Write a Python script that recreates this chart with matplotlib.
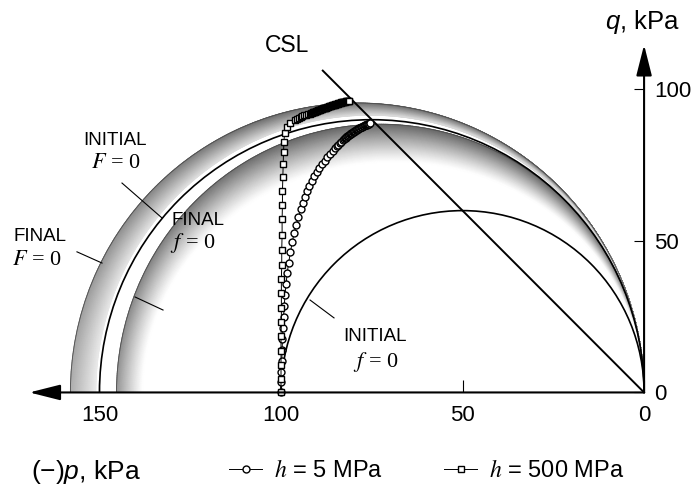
import matplotlib
matplotlib.use("Agg")
import numpy as np
import matplotlib.pyplot as plt
from matplotlib.patches import Arc

plt.rcParams["font.family"] = ["Liberation Sans", "DejaVu Sans"]
plt.rcParams["mathtext.fontset"] = "custom"
plt.rcParams["mathtext.it"] = "Liberation Sans:italic"
plt.rcParams["mathtext.rm"] = "Liberation Sans"

# yield surfaces: (size along p, peak q), kPa
final_F_outer = (158.0, 95.5)
final_F_inner = (151.0, 91.5)
initial_F = (150.0, 90.0)
final_f_outer = (145.3, 88.5)
final_f_inner = (138.0, 76.0)
initial_f = (100.0, 60.0)

# critical state line, from the origin
csl_p = [0.0, 88.5]
csl_q = [0.0, 106.2]

# stress path, h = 5 MPa
p_h5 = [100.0, 100.0, 99.9, 99.8, 99.7, 99.6, 99.5, 99.3, 99.1, 98.9,
        98.6, 98.3, 97.9, 97.4, 96.9, 96.4, 95.8, 95.2, 94.6, 94.0,
        93.4, 92.8, 92.2, 91.5, 90.8, 90.1, 89.4, 88.7, 88.0, 87.2,
        86.4, 85.6, 85.0, 84.6, 84.2, 83.8, 83.4, 83.0, 82.6,
        82.4, 82.2, 82.0, 81.8, 81.6, 81.4, 81.2, 81.0, 80.8, 80.6,
        80.4, 80.2, 80.0, 79.8, 79.6, 79.4, 79.2, 79.0, 78.8, 78.6,
        78.4, 78.2, 78.0, 77.8, 77.6, 77.4, 77.2, 77.0, 76.8, 76.6,
        76.4, 76.2, 76.0, 75.8, 75.6]
q_h5 = [0.0, 3.4, 6.9, 10.4, 14.0, 17.6, 21.2, 24.9, 28.6, 32.2,
        35.8, 39.3, 42.8, 46.3, 49.6, 52.6, 55.4, 58.0, 60.4, 62.6,
        64.6, 66.5, 68.2, 69.8, 71.3, 72.7, 74.0, 75.3, 76.5, 77.7,
        78.8, 79.8, 80.7, 81.2, 81.7, 82.2, 82.7, 83.2, 83.7,
        83.9, 84.1, 84.3, 84.5, 84.7, 84.9, 85.1, 85.2, 85.4, 85.6,
        85.7, 85.9, 86.1, 86.2, 86.4, 86.5, 86.7, 86.8, 86.9, 87.1,
        87.2, 87.3, 87.5, 87.6, 87.7, 87.8, 88.0, 88.1, 88.2, 88.3,
        88.4, 88.5, 88.6, 88.7, 88.8]

# stress path, h = 500 MPa
p_h500 = [100.0, 100.0, 100.0, 100.0, 100.0, 99.9, 99.9, 99.9, 99.9, 99.8,
          99.8, 99.7, 99.7, 99.6, 99.6, 99.5, 99.4, 99.3, 99.2, 99.0,
          98.4, 97.5, 96.2,
          95.6, 95.1, 94.6, 94.1, 93.6, 93.1, 92.6, 92.1, 91.7,
          91.4, 91.2, 91.0, 90.8, 90.6, 90.4, 90.2, 90.0, 89.8, 89.6,
          89.4, 89.2, 89.0, 88.8, 88.6, 88.4, 88.2, 88.0, 87.8, 87.6,
          87.4, 87.2, 87.0, 86.8, 86.6, 86.4, 86.2, 86.0, 85.8, 85.6,
          85.4, 85.2, 85.0, 84.8, 84.6, 84.4, 84.2, 84.0, 83.8, 83.6,
          83.4, 83.2, 83.0, 82.8, 82.6, 82.4, 82.2, 82.0, 81.8, 81.6,
          81.4, 81.2]
q_h500 = [0.0, 4.5, 9.1, 13.8, 18.6, 23.3, 28.0, 32.7, 37.4, 42.2,
          47.0, 52.1, 57.2, 61.9, 66.5, 71.0, 75.4, 79.5, 82.8, 85.5,
          87.5, 88.8, 89.9,
          90.3, 90.6, 90.9, 91.2, 91.4, 91.6, 91.8, 92.0, 92.1,
          92.3, 92.4, 92.5, 92.6, 92.7, 92.8, 92.9, 93.0, 93.1, 93.2,
          93.2, 93.3, 93.4, 93.5, 93.6, 93.7, 93.8, 93.9, 94.0, 94.0,
          94.1, 94.2, 94.3, 94.4, 94.5, 94.6, 94.6, 94.7, 94.8, 94.9,
          95.0, 95.0, 95.1, 95.2, 95.3, 95.3, 95.4, 95.5, 95.6, 95.6,
          95.7, 95.8, 95.8, 95.9, 96.0, 96.0, 96.1, 96.1, 96.2, 96.2,
          96.3, 96.3]

x_ticks = [150, 100, 50, 0]
y_ticks = [0, 50, 100]

fig = plt.figure(figsize=(6.92, 4.87), dpi=100)
ax = fig.add_axes([0, 0, 1, 1])
ax.set_xlim(177.4, -13.2)
ax.set_ylim(-31.2, 129.5)


def band(outer, inner, amp_top, amp_end, fade, inner_keep):
    # shaded ring between two ellipses through the origin;
    # dark along the outer edge, lighter towards the inner edge and the p axis end
    s = np.linspace(0, 1, 40)[:, None]
    t = np.linspace(0, np.pi, 400)[None, :]
    a = outer[0] + (inner[0] - outer[0]) * s
    h = outer[1] + (inner[1] - outer[1]) * s
    X = a / 2 * (1 - np.cos(t))
    Y = h * np.sin(t)
    amp = np.where(t < 1.9, amp_top,
                   amp_top + (amp_end - amp_top) * (t - 1.9) / (np.pi - 1.9))
    C = 1 - amp * (inner_keep + (1 - inner_keep) * (1 - s) ** fade)
    ax.pcolormesh(X, Y, C, shading="gouraud", cmap="gray", vmin=0, vmax=1, zorder=1)


def surface(size, **kw):
    a, h = size
    ax.add_patch(Arc((a / 2, 0), a, 2 * h, theta1=0, theta2=180, **kw))


band(final_F_outer, final_F_inner, 0.58, 0.32, 1.0, 0.25)
band(final_f_outer, final_f_inner, 0.6, 0.42, 1.15, 0.0)
surface(final_F_outer, color="0.3", lw=0.6, zorder=2)
surface(final_f_outer, color="0.3", lw=0.6, zorder=2)
surface(initial_F, color="k", lw=1.2, zorder=3)
surface(initial_f, color="k", lw=1.2, zorder=3)
ax.plot(csl_p, csl_q, color="k", lw=1.4, zorder=3)

ax.plot(p_h5, q_h5, "-o", color="k", mfc="white", mec="k", ms=5.0, mew=1.0,
        lw=0.7, zorder=4, label="$h$ = 5 MPa")
ax.plot(p_h500, q_h500, "-s", color="k", mfc="white", mec="k", ms=4.3, mew=1.0,
        lw=0.7, zorder=5, label="$h$ = 500 MPa")

# axes drawn as arrows
for sp in ax.spines.values():
    sp.set_color("none")
ax.spines["bottom"].set_position(("data", 0))
ax.spines["right"].set_position(("data", 0))
arrow = dict(arrowstyle="-|>,head_length=0.95,head_width=0.24", color="k", lw=1.5,
             mutation_scale=20, shrinkA=0, shrinkB=0)
ax.annotate("", xy=(169.3, 0), xytext=(0, 0), arrowprops=arrow, zorder=6)
ax.annotate("", xy=(0, 114.7), xytext=(0, 0), arrowprops=arrow, zorder=6)

ax.set_xticks(x_ticks)
ax.set_xticklabels([str(t) for t in x_ticks])
ax.set_yticks(y_ticks)
ax.set_yticklabels([str(t) for t in y_ticks])
ax.yaxis.tick_right()
ax.tick_params(axis="x", direction="in", length=9, width=0.8, labelsize=16, pad=9)
ax.tick_params(axis="y", direction="in", length=7, width=0.8, labelsize=16, pad=7)

ax.text(0.3, 122.3, "$q$, kPa", fontsize=18.5, ha="center", va="center")
ax.text(153.7, -26.2, "(\u2212)$p$, kPa", fontsize=19, ha="center", va="center")
ax.text(98.3, 114.4, "CSL", fontsize=16.5, ha="center", va="center")

labels = [
    ("INITIAL", "$F$ = 0", (145.7, 83.3), (145.5, 75.7), (143.8, 69.1), (132.8, 57.6)),
    ("FINAL", "$F$ = 0", (166.4, 51.6), (167.2, 43.7), (156.2, 46.4), (149.3, 42.7)),
    ("FINAL", "$f$ = 0", (122.9, 56.6), (124.2, 49.3), (140.2, 31.5), (132.5, 27.2)),
    ("INITIAL", "$f$ = 0", (74.1, 18.3), (73.8, 10.1), (92.0, 30.5), (85.4, 24.6)),
]
for word, eq, wpos, epos, l0, l1 in labels:
    ax.text(*wpos, word, fontsize=13.5, ha="center", va="center")
    ax.text(*epos, eq, fontsize=16, ha="center", va="center",
            family="Liberation Serif", math_fontfamily="stix")
    ax.plot([l0[0], l1[0]], [l0[1], l1[1]], color="k", lw=0.8, zorder=3)

leg = ax.legend(loc="center left", bbox_to_anchor=(0.331, 0.033), ncol=2,
                frameon=False, fontsize=17, handlelength=1.4, handletextpad=0.5,
                columnspacing=2.6, borderpad=0, borderaxespad=0)
for t in leg.get_texts():
    t.set_math_fontfamily("stix")

fig.savefig("out.png", dpi=100)
